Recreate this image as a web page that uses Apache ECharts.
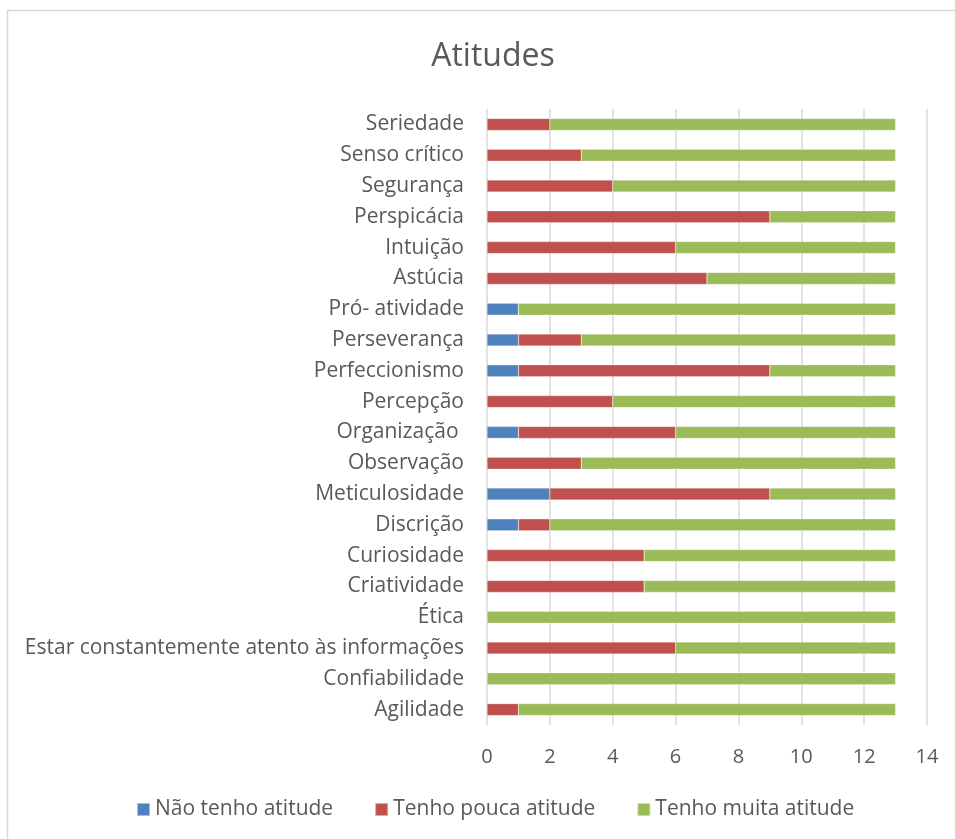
<!DOCTYPE html>
<html><head><meta charset="utf-8">
<script src="https://cdn.jsdelivr.net/npm/echarts@6/dist/echarts.min.js"></script>
<style>html,body{margin:0;padding:0;background:#fff}#c{width:955px;height:839px}</style>
</head><body><div id="c"></div>
<script>
const categories = ['Agilidade','Confiabilidade','Estar constantemente atento às informações','Ética','Criatividade','Curiosidade','Discrição','Meticulosidade','Observação','Organização ','Percepção','Perfeccionismo','Perseverança','Pró- atividade','Astúcia','Intuição','Perspicácia','Segurança','Senso crítico','Seriedade'];
const naoTenho =   [0,0,0,0,0,0,1,2,0,1,0,1,1,1,0,0,0,0,0,0];
const poucaAtit =  [1,0,6,0,5,5,1,7,3,5,4,8,2,0,7,6,9,4,3,2];
const muitaAtit =  [12,13,7,13,8,8,11,4,10,7,9,4,10,12,6,7,4,9,10,11];
const xTicks = [0,2,4,6,8,10,12,14];
const seriesNames = ['Não tenho atitude','Tenho pouca atitude','Tenho muita atitude'];
const colors = ['#4F81BD','#C0504D','#9BBB59'];

const font = '"Open Sans", sans-serif';
const chart = echarts.init(document.getElementById('c'));
const mk = (name, data, color) => ({
  name, type:'bar', stack:'t', data, barWidth:12,
  itemStyle:{color, borderColor:'rgba(255,255,255,0.5)', borderWidth:0.5},
  emphasis:{disabled:true}
});
chart.setOption({
  animation:false,
  textStyle:{fontFamily:font},
  title:{text:'Atitudes', left:488, textAlign:'center', top:36,
    textStyle:{fontSize:32, fontWeight:'normal', color:'#595959', fontFamily:font}},
  graphic:[{type:'rect', shape:{x:7.5,y:10.5,width:1000,height:900},
    style:{fill:'none', stroke:'#d9d9d9', lineWidth:1.5}, silent:true, z:-1}],
  legend:{bottom:14, left:131, itemWidth:13, itemHeight:13, itemGap:41,
    icon:'rect', textStyle:{fontSize:21, color:'#595959', fontFamily:font},
    data:seriesNames},
  grid:{left:487, right:28, top:109, bottom:114, containLabel:false},
  xAxis:{type:'value', min:0, max:14, interval:2,
    axisLine:{show:false}, axisTick:{show:false},
    axisLabel:{fontSize:20, color:'#595959', margin:22, fontFamily:font,
      formatter:v=>xTicks.includes(v)?String(v):''},
    splitLine:{show:true, lineStyle:{color:'#d9d9d9', width:1.5}}},
  yAxis:{type:'category', data:categories,
    axisLine:{show:false}, axisTick:{show:false},
    axisLabel:{fontSize:21, color:'#595959', margin:23, fontFamily:font, padding:[3,0,0,0]}},
  series:[mk(seriesNames[0],naoTenho,colors[0]), mk(seriesNames[1],poucaAtit,colors[1]), mk(seriesNames[2],muitaAtit,colors[2])]
});
</script></body></html>
